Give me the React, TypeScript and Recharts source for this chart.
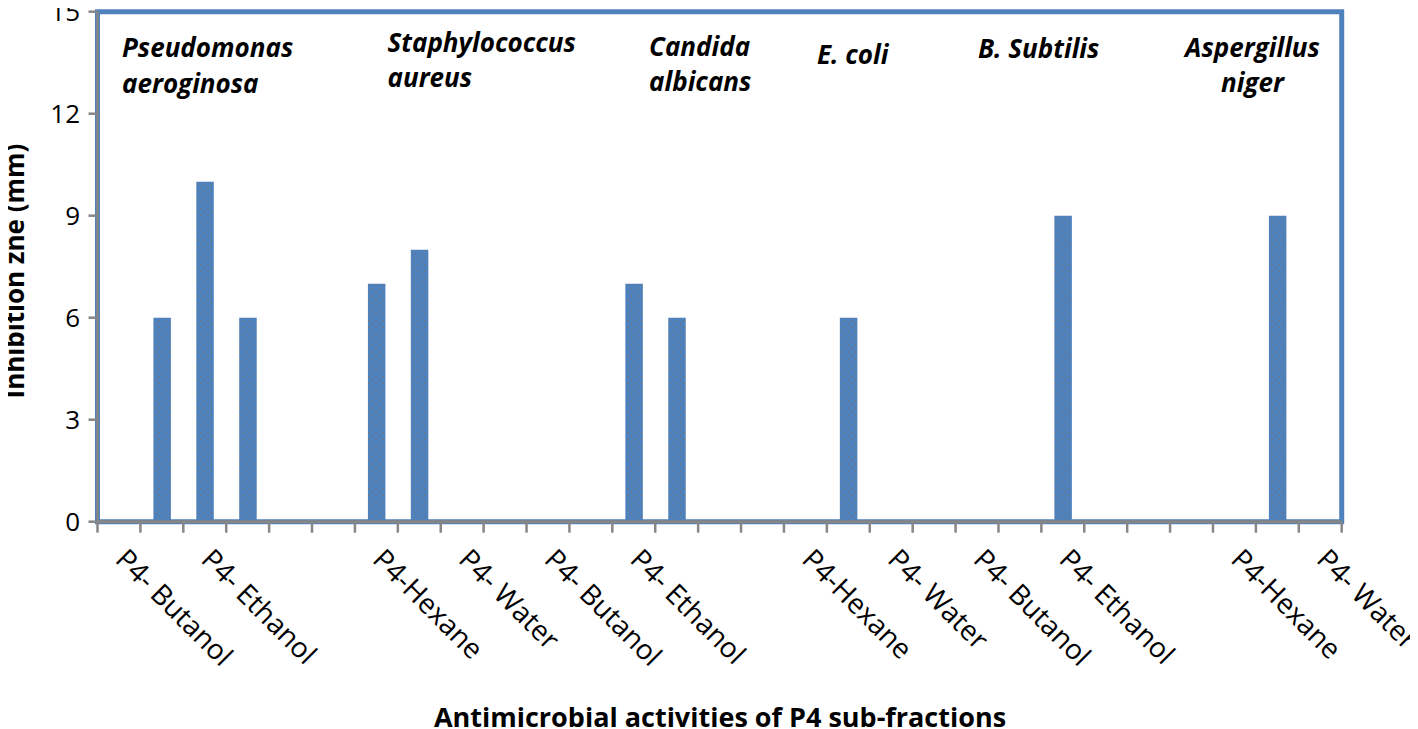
import React from 'react';
import { BarChart, Bar, XAxis, YAxis, ReferenceArea } from 'recharts';

// ---------- data ----------
const categories: string[] = [
  'P4- Butanol', 'P4-Hexane', 'P4- Ethanol', 'P4- Water', '',
  'P4- Butanol', 'P4-Hexane', 'P4- Ethanol', 'P4- Water', '',
  'P4- Butanol', 'P4-Hexane', 'P4- Ethanol', 'P4- Water', '',
  'P4- Butanol', 'P4-Hexane', 'P4- Ethanol', 'P4- Water', '',
  'P4- Butanol', 'P4-Hexane', 'P4- Ethanol', 'P4- Water', '',
  'P4- Butanol', 'P4-Hexane', 'P4- Ethanol', 'P4- Water',
];

const inhibition: number[] = [
  0, 6, 10, 6, 0,
  0, 7, 8, 0, 0,
  0, 0, 7, 6, 0,
  0, 0, 6, 0, 0,
  0, 0, 9, 0, 0,
  0, 0, 9, 0,
];

const yTicks: number[] = [0, 3, 6, 9, 12, 15];

const organisms: string[][] = [
  ['Pseudomonas', 'aeroginosa'],
  ['Staphylococcus', 'aureus'],
  ['Candida', 'albicans'],
  ['E. coli'],
  ['B. Subtilis'],
  ['Aspergillus', 'niger'],
];

const yTitle = 'Inhibition zne (mm)';
const xTitle = 'Antimicrobial activities of P4 sub-fractions';

const data = categories.map((name, i) => ({ name, value: inhibition[i] }));

// ---------- styling / layout ----------
const W = 1418;
const H = 729;
const FONT = '"Open Sans", sans-serif';
const BLUE = '#4F81BD';
const GREY = '#868686';

const annotationPlacement = [
  { x: 122, y: 57.3, anchor: 'start' },
  { x: 387.5, y: 51.7, anchor: 'start' },
  { x: 649, y: 56, anchor: 'start' },
  { x: 817, y: 64, anchor: 'start' },
  { x: 978, y: 58, anchor: 'start' },
  { x: 1252.5, y: 56.7, anchor: 'middle' },
];

function CatTick(props: any) {
  const { x, y, payload, index, width } = props;
  const band = (typeof width === 'number' && width > 0 ? width : 1244.2) / categories.length;
  const half = band / 2;
  const showLabel = index % 2 === 0;
  const tx = x - 5;
  const ty = y + 39.3;
  const isLast = index === categories.length - 1;
  return (
    <g>
      <line x1={x - half} x2={x - half} y1={y} y2={y + 11} stroke={GREY} strokeWidth={2.5} />
      {isLast && (
        <line x1={x + half} x2={x + half} y1={y} y2={y + 11} stroke={GREY} strokeWidth={2.5} />
      )}
      {showLabel && payload.value !== '' && (
        <text
          x={tx}
          y={ty}
          transform={`rotate(45, ${tx}, ${ty})`}
          fontFamily={FONT}
          fontSize={28}
          fill="#000"
          textAnchor="start"
        >
          {payload.value}
        </text>
      )}
    </g>
  );
}

export default function App() {
  return (
    <div style={{ position: 'relative', width: W, height: H, margin: '-8px 0 0 -8px' }}>
      <svg width={0} height={0} style={{ position: 'absolute' }}>
        <defs>
          <pattern id="dots" width={7} height={7} patternUnits="userSpaceOnUse">
            <rect width={7} height={7} fill={BLUE} />
            <circle cx={1.5} cy={2} r={0.55} fill="#8a6a3a" />
            <circle cx={5} cy={5.5} r={0.55} fill="#8a6a3a" />
          </pattern>
        </defs>
      </svg>
      <BarChart
        width={W}
        height={H}
        data={data}
        margin={{ top: 11.7, right: 76.3, bottom: 0, left: 0 }}
        barSize={17.5}
      >
        <XAxis
          dataKey="name"
          height={207.3}
          interval={0}
          tick={<CatTick />}
          tickLine={false}
          tickSize={0}
          tickMargin={0}
          axisLine={{ stroke: GREY, strokeWidth: 3 }}
        />
        <YAxis
          width={97.5}
          domain={[0, 15]}
          ticks={yTicks}
          interval={0}
          tickSize={9}
          tickMargin={8.5}
          tick={{ fontFamily: FONT, fontSize: 26, fill: '#000' }}
          tickLine={{ stroke: GREY, strokeWidth: 2.5 }}
          axisLine={{ stroke: GREY, strokeWidth: 2.5 }}
        />
        <ReferenceArea
          y1={0}
          y2={15}
          fill="none"
          fillOpacity={0}
          stroke={BLUE}
          strokeWidth={5}
          ifOverflow="visible"
        />
        <Bar dataKey="value" fill="url(#dots)" isAnimationActive={false} />
      </BarChart>
      <svg
        width={W}
        height={H}
        style={{ position: 'absolute', left: 0, top: 0, pointerEvents: 'none', overflow: 'visible' }}
      >
        {organisms.map((lines, i) => (
          <text
            key={i}
            x={annotationPlacement[i].x}
            y={annotationPlacement[i].y}
            textAnchor={annotationPlacement[i].anchor as any}
            fontFamily={FONT}
            fontSize={26}
            fontWeight={700}
            fontStyle="italic"
            fill="#000"
          >
            {lines.map((l, j) => (
              <tspan key={j} x={annotationPlacement[i].x} dy={j === 0 ? 0 : 35.4}>
                {l}
              </tspan>
            ))}
          </text>
        ))}
        <text
          transform="translate(24, 271) rotate(-90)"
          textAnchor="middle"
          fontFamily={FONT}
          fontSize={26}
          fontWeight={700}
          fill="#000"
        >
          {yTitle}
        </text>
        <text
          x={720}
          y={727}
          textAnchor="middle"
          fontFamily={FONT}
          fontSize={27}
          fontWeight={700}
          fill="#000"
        >
          {xTitle}
        </text>
      </svg>
    </div>
  );
}
